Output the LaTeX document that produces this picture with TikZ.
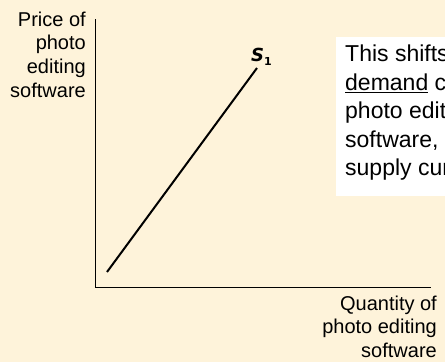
\documentclass[tikz,border=0pt]{standalone}
\usepackage{fontspec}
\setmainfont{Liberation Sans}
\newfontfamily\labelfont{DejaVu Sans}
\usetikzlibrary{positioning}

\definecolor{slidecream}{RGB}{254,243,218}

\tikzset{
  axislabel/.style={align=right, inner sep=0pt, font=\fontsize{20}{23.8}\selectfont},
  notetext/.style={align=left, inner sep=0pt, font=\fontsize{23}{28.5}\selectfont},
}

\begin{document}
\begin{tikzpicture}[x=1pt, y=-1pt]
    \useasboundingbox (0,0) rectangle (445,362);
    \clip (0,0) rectangle (445,362);
    \fill[slidecream] (0,0) rectangle (445,362);

    % axes
    \coordinate (ytop) at (95.5,19);
    \coordinate (origin) at (95.5,287);
    \coordinate (xend) at (431,287);
    \draw[line width=1pt] (ytop) -- (origin) -- (xend);

    \node[axislabel, anchor=north east] (price) at (86,11.5) {Price of\\photo\\editing\\software};
    \node[axislabel, anchor=north east] (quantity) at (437,295.5) {Quantity of\\photo editing\\software};

    % supply curve
    \coordinate (slow) at (107,272);
    \coordinate (shigh) at (257,68);
    \draw[line width=2pt] (slow) -- (shigh);
    \node[inner sep=0pt, anchor=base west, font=\labelfont\bfseries\fontsize{18}{22}\selectfont] (s1) at (251,61)
        {\textit{S}\raisebox{-4.5pt}{\fontsize{11}{11}\selectfont 1}};

    % note
    \fill[white] (336,37) rectangle (470,196);
    \node[notetext, anchor=north west] (note) at (345,45)
        {This shifts the\\\underline{demand} curve for\\photo editing\\software, not the\\supply curve.};
\end{tikzpicture}
\end{document}
